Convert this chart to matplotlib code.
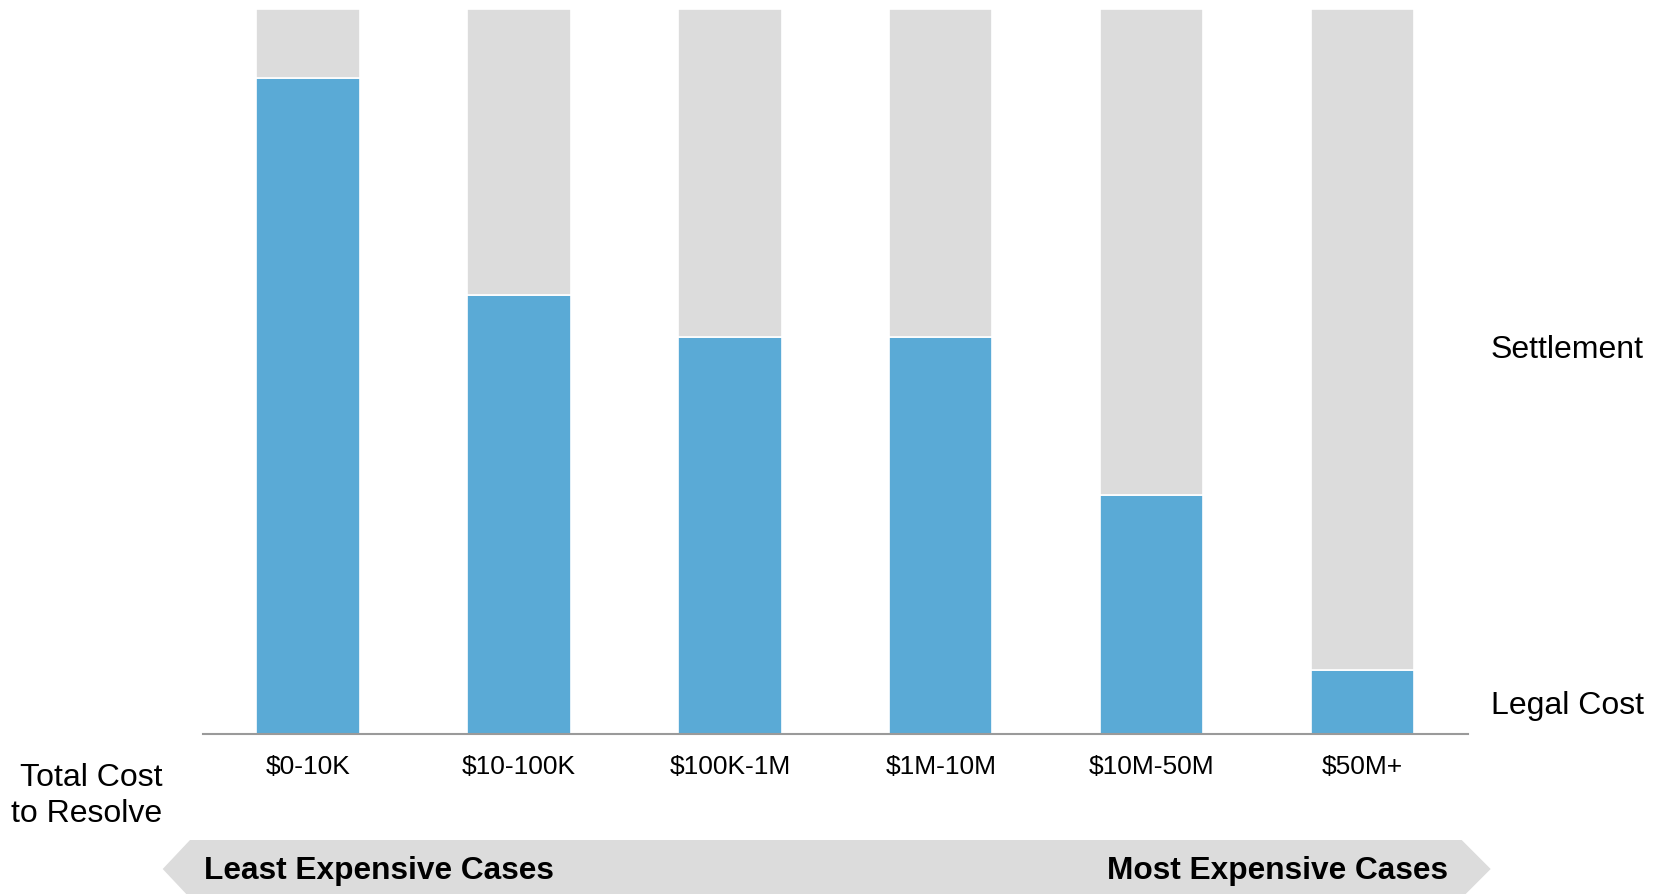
import numpy as np
import matplotlib
matplotlib.use('Agg')
import matplotlib.pyplot as plt
from matplotlib.patches import Polygon

plt.rcParams['font.family'] = ['Liberation Sans', 'DejaVu Sans']

# share of total cost to resolve, by case size
categories = ['$0-10K', '$10-100K', '$100K-1M', '$1M-10M', '$10M-50M', '$50M+']
legal_cost = [0.905, 0.605, 0.548, 0.547, 0.330, 0.088]
settlement = [1 - v for v in legal_cost]

blue = '#5AAAD6'
grey = '#DCDCDC'

W, H = 1663, 894
fig = plt.figure(figsize=(W / 100, H / 100), dpi=100)
ax = fig.add_axes([202.6 / W, 1 - 734 / H, 1265.4 / W, (734 - 9) / H])

x = np.arange(len(categories))
ax.bar(x, legal_cost, width=0.49, color=blue, edgecolor='white', linewidth=1.2)
ax.bar(x, settlement, bottom=legal_cost, width=0.49, color=grey,
       edgecolor='white', linewidth=1.2)

ax.set_xlim(-0.5, len(categories) - 0.5)
ax.set_ylim(0, 1)
ax.set_yticks([])
ax.set_xticks(x)
ax.set_xticklabels(categories, fontsize=19)
ax.tick_params(axis='x', length=0, pad=15)
for s in ['top', 'right', 'left']:
    ax.spines[s].set_visible(False)
ax.spines['bottom'].set_color('#9A9A9A')
ax.spines['bottom'].set_linewidth(1.5)

# series labels on the right
ax.text(1491 / W, 1 - 350 / H, 'Settlement', transform=fig.transFigure,
        fontsize=23, va='center', ha='left')
ax.text(1491 / W, 1 - 706 / H, 'Legal Cost', transform=fig.transFigure,
        fontsize=23, va='center', ha='left')

fig.text(162 / W, 1 - 796 / H, 'Total Cost\nto Resolve', fontsize=23,
         ha='right', va='center', linespacing=1.25)

# arrow banner along the bottom
pts = [(162.7, 869), (190, 840), (1461.7, 840), (1490.7, 869),
       (1461.7, 898), (190, 898)]
banner = Polygon([(px / W, 1 - py / H) for px, py in pts], closed=True,
                 transform=fig.transFigure, facecolor=grey, edgecolor='none')
fig.add_artist(banner)
fig.text(204 / W, 1 - 871 / H, 'Least Expensive Cases', fontsize=22.8,
         fontweight='bold', ha='left', va='center')
fig.text(1448 / W, 1 - 871 / H, 'Most Expensive Cases', fontsize=22.8,
         fontweight='bold', ha='right', va='center')

fig.savefig('out.png', dpi=100)
